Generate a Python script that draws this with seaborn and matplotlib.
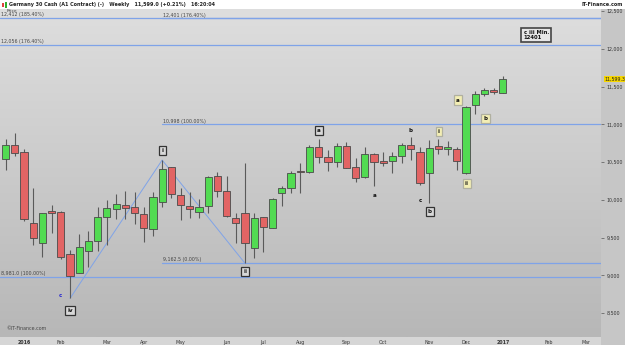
import matplotlib
matplotlib.use("Agg")
import matplotlib.pyplot as plt
import matplotlib.transforms as mtransforms
import numpy as np
import pandas as pd
import seaborn as sns
from matplotlib.patches import Rectangle

# weekly candles, Germany 30 Cash (Dec 2015 - Jan 2017)
weeks = pd.date_range("2015-12-21", "2017-01-02", freq="W-MON")
opens = [10536, 10725, 10632, 9696, 9423, 9855, 9834, 9278, 9034, 9322,
         9450, 9768, 9874, 9927, 9900, 9807, 9609, 9966, 10430, 10059,
         9913, 9834, 9921, 10315, 10112, 9759, 9821, 9357, 9768, 9630,
         10086, 10152, 10375, 10364, 10702, 10562, 10496, 10716, 10438, 10297,
         10606, 10509, 10513, 10583, 10725, 10628, 10350, 10712, 10668, 10669,
         10350, 11251, 11404, 11449, 11410]
highs = [10800, 10880, 10668, 10160, 9829, 9931, 9855, 9335, 9547, 9586,
         9900, 9997, 10076, 10116, 10099, 9900, 10107, 10526, 10438, 10152,
         10107, 10006, 10319, 10371, 10315, 9829, 10491, 9821, 9776, 10019,
         10186, 10381, 10483, 10725, 10800, 10659, 10747, 10769, 10549, 10702,
         10623, 10636, 10636, 10747, 10827, 10695, 10791, 10800, 10774, 10695,
         11241, 11444, 11476, 11476, 11643]
lows = [10394, 10583, 9723, 9401, 9246, 9556, 9212, 8695, 9026, 9114,
        9326, 9397, 9741, 9749, 9679, 9437, 9520, 9900, 10019, 9732,
        9762, 9762, 9821, 10033, 9776, 9431, 9159, 9225, 9312, 9622,
        9917, 10093, 10093, 10350, 10483, 10385, 10438, 10416, 10239, 10284,
        10182, 10447, 10350, 10483, 10526, 10195, 9961, 10606, 10589, 10394,
        10341, 11135, 11374, 11396, 11410]
closes = [10725, 10615, 9741, 9490, 9821, 9829, 9246, 8995, 9378, 9458,
          9776, 9887, 9940, 9895, 9821, 9622, 10040, 10403, 10072, 9927,
          9882, 9908, 10297, 10112, 9789, 9688, 9423, 9759, 9635, 10010,
          10160, 10350, 10365, 10702, 10570, 10504, 10716, 10424, 10292, 10606,
          10504, 10483, 10583, 10725, 10668, 10218, 10681, 10668, 10696, 10517,
          11232, 11400, 11449, 11427, 11599]

# horizontal levels: price, starts at bar, label
level_prices = [12412, 12401, 12056, 10998, 9162.5, 8981]
level_start = [None, 17, None, 17, 17, None]
level_labels = ["12,412 (185.40%)", "12,401 (176.40%)", "12,056 (176.40%)",
                "10,998 (100.00%)", "9,162.5 (0.00%)", "8,981.0 (100.00%)"]

# zigzag (bar index, price)
zig_bars = [7, 17, 26]
zig_prices = [8695, 10526, 9159]

# wave labels: text, bar, price, style
wave_text = ["c", "iv", "i", "ii", "a", "a", "b", "c", "b", "i", "a", "ii", "b"]
wave_bar = [6.0, 7.0, 17.06, 26.0, 34.03, 40.03, 44.02, 45.07, 46.08, 47.06, 49.09, 50.1, 52.13]
wave_price = [8739, 8531, 10650, 9048, 10914, 10063, 10914, 9997, 9847, 10901, 11321, 10218, 11078]
wave_style = ["blue", "gray", "gray", "gray", "gray", "plain", "plain", "plain", "gray",
              "yellow", "yellow", "yellow", "yellow"]

last_price = "11,599.3"
title = "Germany 30 Cash (A1 Contract) (-)   Weekly   11,599.0 (+0.21%)   16:20:04"

sns.set_theme(style="white")
plt.rcParams["font.family"] = ["DejaVu Sans"]

W, H = 625, 345
fig = plt.figure(figsize=(W / 100, H / 100), dpi=100)
fig.patch.set_facecolor("#c6c6c6")

plot_right = 600.7
plot_top = 8.5
plot_bottom = 337
ax = fig.add_axes([0, (H - plot_bottom) / H, plot_right / W, (plot_bottom - plot_top) / H])

xmin, xmax = -0.606, 64.62
ymin, ymax = 8183, 12533

# gradient background, lighter at the top
grad = np.linspace(0, 1, 256).reshape(-1, 1)
cmap = matplotlib.colors.LinearSegmentedColormap.from_list("bg", ["#b7b7b7", "#dedede"])
ax.imshow(grad, extent=[xmin, xmax, ymin, ymax], aspect="auto", cmap=cmap, zorder=0,
          origin="lower")

line_col = "#7fa3e8"
for p, s, lab in zip(level_prices, level_start, level_labels):
    x0 = xmin if s is None else s
    ax.plot([x0, xmax], [p, p], color=line_col, lw=0.9, zorder=1)
    ax.text(x0 + 0.12, p + 8, lab, fontsize=3.4, color="#444444", va="bottom", ha="left", zorder=2)

sns.lineplot(x=zig_bars, y=zig_prices, color=line_col, lw=0.7, ax=ax, zorder=1)

# candles
df = pd.DataFrame({"week": weeks, "open": opens, "high": highs, "low": lows, "close": closes})
df["x"] = np.arange(len(df))
up = df["close"] >= df["open"]
ax.vlines(df["x"], df["low"], df["high"], color="#5a5a5a", lw=0.8, zorder=3)
body_lo = df[["open", "close"]].min(axis=1)
body_h = (df["close"] - df["open"]).abs().clip(lower=12)
colors = np.where(up, "#52db52", "#e26464")
ax.bar(df["x"], body_h, bottom=body_lo, width=0.78, color=colors, edgecolor="#4a4a4a",
       linewidth=0.6, zorder=4)

# wave labels
box_styles = {
    "gray": dict(boxstyle="square,pad=0.4", fc="#d8d8d8", ec="#333333", lw=0.9),
    "yellow": dict(boxstyle="square,pad=0.4", fc="#f3eeb4", ec="#b0b0a0", lw=0.9),
}
for t, bx, bp, st in zip(wave_text, wave_bar, wave_price, wave_style):
    if st == "blue":
        ax.text(bx, bp, t, fontsize=4, color="#2a2ad0", ha="center", va="center",
                fontweight="bold", zorder=5)
    elif st == "plain":
        ax.text(bx, bp, t, fontsize=4, color="#111111", ha="center", va="center",
                fontweight="bold", zorder=5)
    else:
        ax.text(bx, bp, t, fontsize=4, color="#111111", ha="center", va="center",
                fontweight="bold", bbox=box_styles[st], zorder=5)

ax.text(56.25, 12181, "c iii Min.\n12401", fontsize=3.8, color="#111111", ha="left",
        va="center", fontweight="bold", linespacing=1.0,
        bbox=dict(boxstyle="square,pad=0.45", fc="#e6e6e6", ec="#444444", lw=1.2), zorder=5)

ax.text(0.12, ymax - 5, "Price", fontsize=3.2, color="#444444", ha="left", va="top", zorder=2)
ax.text(0.12, ymin + 75, "\u00a9IT-Finance.com", fontsize=3.4, color="#444444", ha="left",
        va="bottom")

# axes: price on right, months at bottom
for s in ax.spines.values():
    s.set_visible(False)
ax.yaxis.tick_right()
yt = np.arange(8500, 12501, 500)
ax.set_yticks(yt)
ax.set_yticklabels([f"{v:,}" for v in yt], fontsize=3.4, color="#333333")
ax.tick_params(axis="y", length=2.5, width=0.5, color="#555555", pad=1.5, right=True)

cal = pd.date_range("2015-12-21", periods=68, freq="W-MON")
tick_pos, tick_lab = [], []
for i in range(1, len(cal)):
    if cal[i].month != cal[i - 1].month:
        tick_pos.append(i)
        tick_lab.append(str(cal[i].year) if cal[i].month == 1 else cal[i].strftime("%b"))
ax.set_xticks(tick_pos)
ax.set_xticklabels(tick_lab, fontsize=3.4, color="#333333")
for lbl in ax.get_xticklabels():
    if lbl.get_text().isdigit():
        lbl.set_fontweight("bold")
ax.tick_params(axis="x", length=0, pad=2.2)

# fix limits after all plotting calls
ax.set_xlim(xmin, xmax)
ax.set_ylim(ymin, ymax)

# last price tag
trans = mtransforms.blended_transform_factory(ax.transAxes, ax.transData)
ax.text(1.006, 11599, last_price, transform=trans, fontsize=3.4, color="#222222",
        ha="left", va="center", clip_on=False,
        bbox=dict(boxstyle="square,pad=0.15", fc="#f6d600", ec="none"), zorder=6)

# title bar and bottom band
fig.add_artist(Rectangle((0, (H - plot_top) / H), 1, plot_top / H, transform=fig.transFigure,
                         fc="white", ec="none", zorder=0))
fig.add_artist(Rectangle((0, 0), plot_right / W, (H - plot_bottom) / H, transform=fig.transFigure,
                         fc="#d6d6d6", ec="none", zorder=-1))
fig.add_artist(Rectangle((2 / W, 1 - 7 / H), 2 / W, 4 / H, transform=fig.transFigure,
                         fc="#e04040", ec="none"))
fig.add_artist(Rectangle((5 / W, 1 - 7.5 / H), 2 / W, 5.5 / H, transform=fig.transFigure,
                         fc="#30b030", ec="none"))
fig.text(9 / W, 1 - 4.3 / H, title, fontsize=3.5, fontweight="bold", color="#222222",
         ha="left", va="center")
fig.text(1 - 2 / W, 1 - 4.3 / H, "IT-Finance.com", fontsize=3.5, fontweight="bold",
         color="#222222", ha="right", va="center")

fig.savefig("out.png", dpi=100)
